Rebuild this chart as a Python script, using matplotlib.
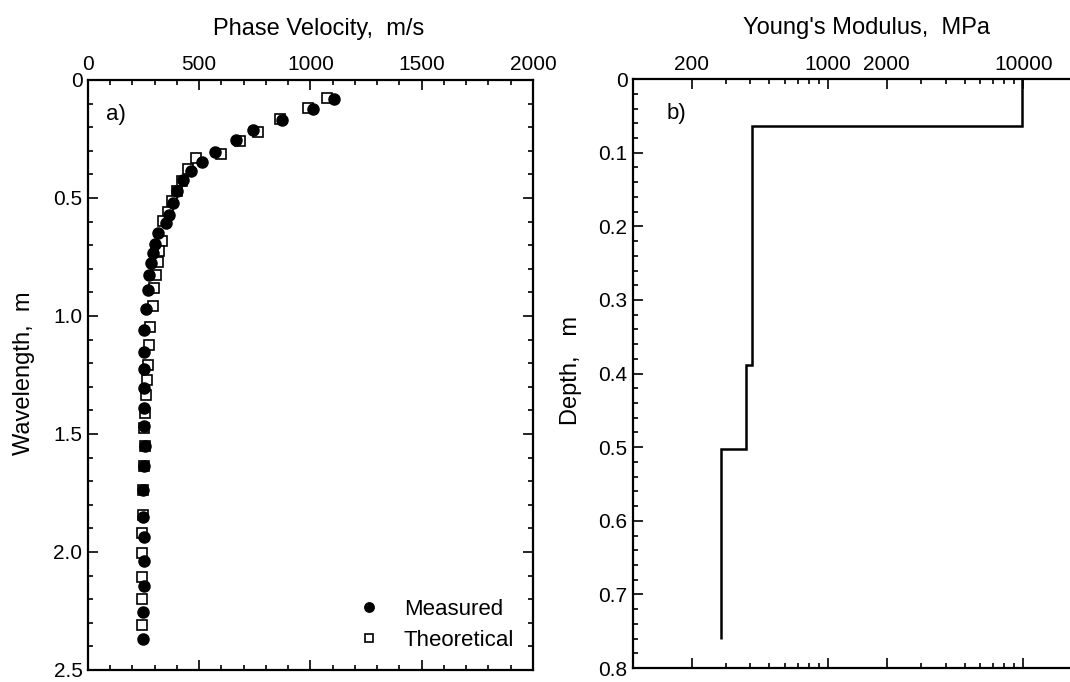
import numpy as np
import matplotlib
matplotlib.use('Agg')
import matplotlib.pyplot as plt
from matplotlib.ticker import MultipleLocator, FixedLocator, NullFormatter

plt.rcParams['font.family'] = ['Liberation Sans', 'DejaVu Sans']
plt.rcParams['font.size'] = 15

# measured dispersion curve (wavelength m, phase velocity m/s)
meas_lam = [0.079, 0.124, 0.171, 0.213, 0.255, 0.303, 0.347, 0.385, 0.424, 0.472,
            0.522, 0.571, 0.608, 0.649, 0.695, 0.735, 0.775, 0.825, 0.888, 0.972,
            1.059, 1.151, 1.224, 1.305, 1.391, 1.466, 1.551, 1.636, 1.737, 1.850,
            1.938, 2.037, 2.143, 2.253, 2.370]
meas_vel = [1105, 1013, 870, 743, 664, 571, 511, 463, 426, 399,
            381, 366, 349, 316, 301, 294, 282, 276, 268, 261,
            253, 253, 253, 253, 253, 253, 256, 253, 249, 249,
            253, 253, 253, 249, 249]

# theoretical dispersion curve
theo_lam = [0.075, 0.117, 0.166, 0.220, 0.258, 0.314, 0.329, 0.378, 0.427, 0.470,
            0.512, 0.561, 0.597, 0.681, 0.726, 0.773, 0.825, 0.883, 0.956, 1.048,
            1.123, 1.208, 1.271, 1.335, 1.412, 1.476, 1.550, 1.636, 1.737, 1.843,
            1.918, 2.006, 2.104, 2.200, 2.309]
theo_vel = [1075, 990, 863, 762, 683, 596, 485, 451, 421, 399,
            376, 361, 339, 331, 320, 316, 306, 297, 291, 279,
            274, 271, 264, 259, 256, 253, 256, 253, 249, 246,
            244, 244, 241, 244, 241]

# layered profile (depth boundaries m, Young's modulus MPa)
layer_depth = [0.0, 0.064, 0.388, 0.502, 0.760]
layer_E = [9900, 405, 380, 284]

fig = plt.figure(figsize=(10.7, 6.82), dpi=100)

# ---- a) dispersion curve
ax1 = fig.add_axes([0.0822, 0.0176, 0.4159, 0.8651])
ax1.plot(theo_vel, theo_lam, 's', ms=7.5, mfc='white', mec='black', mew=1.2,
         label='Theoretical', zorder=2)
ax1.plot(meas_vel, meas_lam, 'o', ms=8, color='black', label='Measured', zorder=3)
ax1.set_xlim(0, 2000)
ax1.set_ylim(2.5, 0)
ax1.xaxis.set_major_locator(MultipleLocator(500))
ax1.xaxis.set_minor_locator(MultipleLocator(100))
ax1.yaxis.set_major_locator(MultipleLocator(0.5))
ax1.yaxis.set_minor_locator(MultipleLocator(0.1))
ax1.yaxis.set_major_formatter(lambda v, p: '0' if v == 0 else f'{v:.1f}')
ax1.tick_params(which='both', direction='in', top=True, bottom=True, left=True, right=True,
                labeltop=True, labelbottom=False, width=1.2)
ax1.tick_params(which='major', length=7.5, pad=4)
ax1.tick_params(which='minor', length=3.6)
ax1.xaxis.set_label_position('top')
ax1.set_xlabel('Phase Velocity,  m/s', fontsize=17)
ax1.xaxis.set_label_coords(0.519, 1.076)
ax1.set_ylabel('Wavelength,  m', fontsize=17)
ax1.yaxis.set_label_coords(-0.119, 0.503)
ax1.text(0.04, 0.96, 'a)', transform=ax1.transAxes, va='top', ha='left', fontsize=16)
h, l = ax1.get_legend_handles_labels()
ax1.legend(h[::-1], l[::-1], loc='lower right', frameon=False, handletextpad=0.9,
           handlelength=1.3, borderaxespad=0.45, labelspacing=0.45, markerscale=0.85,
           fontsize=16)
for s in ax1.spines.values():
    s.set_linewidth(1.6)

# ---- b) stiffness profile
ax2 = fig.add_axes([0.5916, 0.0205, 0.4196, 0.8635])
ax2.stairs(layer_E, layer_depth, orientation='horizontal', baseline=None,
           color='black', lw=1.8)
ax2.set_xscale('log')
ax2.set_xlim(100, 20000)
ax2.set_ylim(0.8, 0)
ax2.xaxis.set_major_locator(FixedLocator([200, 1000, 2000, 10000]))
ax2.xaxis.set_major_formatter(lambda v, p: f'{v:.0f}')
ax2.xaxis.set_minor_locator(FixedLocator([300, 400, 500, 600, 700, 800, 900,
                                          3000, 4000, 5000, 6000, 7000, 8000, 9000]))
ax2.xaxis.set_minor_formatter(NullFormatter())
ax2.yaxis.set_major_locator(MultipleLocator(0.1))
ax2.yaxis.set_minor_locator(MultipleLocator(0.02))
ax2.yaxis.set_major_formatter(lambda v, p: '0' if v == 0 else f'{v:.1f}')
ax2.tick_params(which='both', direction='in', top=True, bottom=True, left=True, right=False,
                labeltop=True, labelbottom=False, width=1.2)
ax2.tick_params(which='major', length=7.5, pad=4)
ax2.tick_params(which='minor', length=3.6)
ax2.xaxis.set_label_position('top')
ax2.set_xlabel("Young's Modulus,  MPa", fontsize=17)
ax2.xaxis.set_label_coords(0.521, 1.076)
ax2.set_ylabel('Depth,   m', fontsize=17)
ax2.yaxis.set_label_coords(-0.114, 0.505)
ax2.text(0.075, 0.96, 'b)', transform=ax2.transAxes, va='top', ha='left', fontsize=16)
for s in ax2.spines.values():
    s.set_linewidth(1.6)

fig.savefig('out.png', dpi=100)
